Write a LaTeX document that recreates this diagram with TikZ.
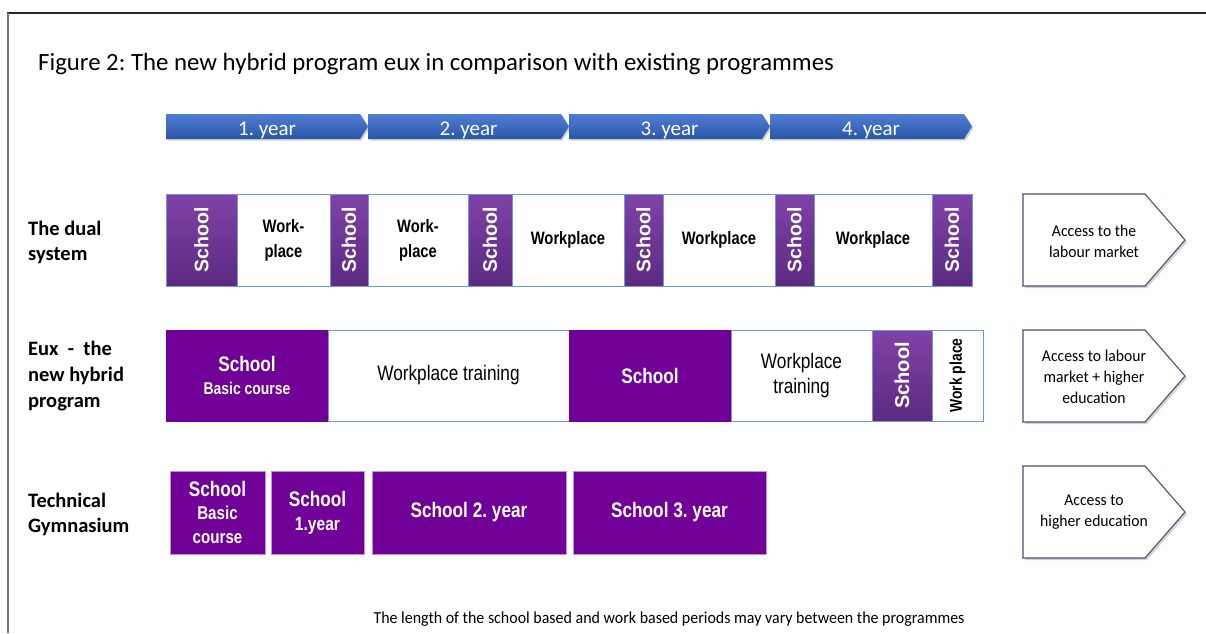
\documentclass[tikz,border=0pt]{standalone}
\usepackage{fontspec}
\usepackage{graphicx}
\setmainfont{Carlito}
\newfontfamily\arialf{Liberation Sans}
\newfontfamily\narrowf[FakeStretch=0.82]{Liberation Sans}
\newfontfamily\calnarrow[FakeStretch=0.95]{Carlito}
\definecolor{purpleTop}{RGB}{128,66,168}
\definecolor{purpleBot}{RGB}{92,42,128}
\definecolor{purpleS}{RGB}{112,0,152}
\definecolor{blueEdge}{RGB}{110,150,225}
\definecolor{gymEdge}{RGB}{185,150,215}
\definecolor{arrTop}{RGB}{80,126,212}
\definecolor{arrBot}{RGB}{42,86,168}
\definecolor{accEdge}{RGB}{70,84,112}
\tikzset{
 blk/.style={draw=blueEdge, line width=0.9pt, inner sep=0pt, outer sep=0pt},
 dualh/.style={blk, minimum height=92pt},
 euxh/.style={blk, minimum height=91pt},
 gradblk/.style={top color=purpleTop, bottom color=purpleBot, text=white, font=\arialf\bfseries\fontsize{19.5}{20}\selectfont},
 whiteblk/.style={fill=white, text=black, font=\narrowf\bfseries\fontsize{18}{25}\selectfont, align=center},
 solidblk/.style={fill=purpleS, draw=purpleS, text=white, font=\narrowf\bfseries\fontsize{21}{24}\selectfont, align=center},
 gymblk/.style={fill=purpleS, draw=gymEdge, line width=0.6pt, minimum height=83pt, inner sep=0pt, text=white, font=\narrowf\bfseries\fontsize{21}{25}\selectfont, align=center},
 rowlab/.style={anchor=base west, inner sep=0pt, font=\bfseries\fontsize{20.5}{25}\selectfont},
 acclab/.style={align=center, font=\calnarrow\fontsize{16.5}{21}\selectfont, inner sep=0pt},
 yearlab/.style={anchor=base, text=white, inner sep=0pt, font=\fontsize{21}{21}\selectfont},
 yeararrow/.style={top color=arrTop, bottom color=arrBot, draw=none},
 accbox/.style={draw=accEdge, line width=1.1pt, fill=white},
 shadowp/.style={fill=black!18, draw=none},
}
\frenchspacing
\begin{document}
\begin{tikzpicture}[x=1pt,y=-1pt]
\useasboundingbox (0,0) rectangle (1206,633);
\fill[white] (0,0) rectangle (1206,633);
% frame
\draw[line width=1.3pt, black!85] (7,13) -- (1206,13);
\draw[line width=2pt, black!55] (8,13) -- (8,633);
% title
\node[anchor=base west, inner sep=0pt, font=\fontsize{24.8}{30}\selectfont] (title) at (38,70) {Figure 2: The new hybrid program eux in comparison with existing programmes};
% year arrows
\foreach \a/\b in {166/368, 368/569, 569/770, 770/972}{
  \fill[shadowp] (\a+1.5,115.5) -- (\b-6.5,115.5) -- (\b+1.5,128) -- (\b-6.5,140.5) -- (\a+1.5,140.5) -- cycle;
  \shade[yeararrow] (\a,114) -- (\b-8,114) -- (\b,126.5) -- (\b-8,139) -- (\a,139) -- cycle;
}
\node[yearlab] (y1) at (267,135) {1. year};
\node[yearlab] (y2) at (468.5,135) {2. year};
\node[yearlab] (y3) at (669.5,135) {3. year};
\node[yearlab] (y4) at (871,135) {4. year};
% row labels
\node[rowlab] (l1a) at (28,235) {The dual};
\node[rowlab] (l1b) at (28,260) {system};
\node[rowlab] (l2a) at (28,355) {Eux \ - \ the};
\node[rowlab] (l2b) at (28,381) {new hybrid};
\node[rowlab] (l2c) at (28,407) {program};
\node[rowlab] (l3a) at (28,507) {Technical};
\node[rowlab] (l3b) at (28,532) {Gymnasium};
% dual system row
\node[dualh, gradblk, minimum width=71pt] (d1) at (201.5,240) {\rotatebox{90}{School}};
\node[dualh, whiteblk, minimum width=93pt] (d2) at (283.5,240) {Work-\\place};
\node[dualh, gradblk, minimum width=38pt] (d3) at (349,240) {\rotatebox{90}{School}};
\node[dualh, whiteblk, minimum width=100pt] (d4) at (418,240) {Work-\\place};
\node[dualh, gradblk, minimum width=44pt] (d5) at (490,240) {\rotatebox{90}{School}};
\node[dualh, whiteblk, minimum width=112pt] (d6) at (568,240) {Workplace};
\node[dualh, gradblk, minimum width=39pt] (d7) at (643.5,240) {\rotatebox{90}{School}};
\node[dualh, whiteblk, minimum width=112pt] (d8) at (719,240) {Workplace};
\node[dualh, gradblk, minimum width=39pt] (d9) at (794.5,240) {\rotatebox{90}{School}};
\node[dualh, whiteblk, minimum width=118pt] (d10) at (873,240) {Workplace};
\node[dualh, gradblk, minimum width=40pt] (d11) at (952,240) {\rotatebox{90}{School}};
% eux row
\node[euxh, solidblk, minimum width=162pt] (e1) at (247,375.5) {School\\[-1pt]{\fontsize{17}{20}\selectfont Basic course}};
\node[euxh, whiteblk, minimum width=241pt, font=\narrowf\fontsize{21}{25}\selectfont] (e2) at (448.5,375.5) {Workplace training};
\node[euxh, solidblk, minimum width=162pt] (e3) at (650,375.5) {School};
\node[euxh, whiteblk, minimum width=141pt, font=\narrowf\fontsize{21}{25}\selectfont] (e4) at (801.5,375.5) {Workplace\\training};
\node[euxh, gradblk, minimum width=60pt, font=\arialf\bfseries\fontsize{20}{20}\selectfont] (e5) at (902,375.5) {\rotatebox{90}{School}};
\node[euxh, whiteblk, minimum width=51pt, font=\narrowf\bfseries\fontsize{17}{20}\selectfont] (e6) at (957.5,375.5) {\rotatebox{90}{Work place}};
% technical gymnasium row
\node[gymblk, minimum width=95pt] (g1) at (217.5,512.5) {School\\[-2pt]{\fontsize{18.5}{25}\selectfont Basic}\\[-1pt]{\fontsize{18.5}{25}\selectfont course}};
\node[gymblk, minimum width=93pt] (g2) at (317.5,512.5) {School\\[-1pt]{\fontsize{19}{24}\selectfont 1.year}};
\node[gymblk, minimum width=194pt] (g3) at (469,512.5) {School 2. year};
\node[gymblk, minimum width=193pt] (g4) at (669.5,512.5) {School 3. year};
% access boxes
\foreach \t/\b in {194/286, 330/422, 466/558}{
  \fill[shadowp] (1025,\t+2) -- (1147,\t+2) -- (1187,{(\t+\b)/2+2}) -- (1147,\b+2) -- (1025,\b+2) -- cycle;
  \draw[accbox] (1023,\t) -- (1145,\t) -- (1185,{(\t+\b)/2}) -- (1145,\b) -- (1023,\b) -- cycle;
}
\node[acclab] (a1) at (1094,241) {Access to the\\labour market};
\node[acclab] (a2) at (1094,377) {Access to labour\\market + higher\\education};
\node[acclab] (a3) at (1094,512) {Access to\\higher education};
% footnote
\node[anchor=base, inner sep=0pt, font=\calnarrow\fontsize{16.8}{20}\selectfont] (foot) at (669,623) {The length of the school based and work based periods may vary between the programmes};
\end{tikzpicture}
\end{document}
